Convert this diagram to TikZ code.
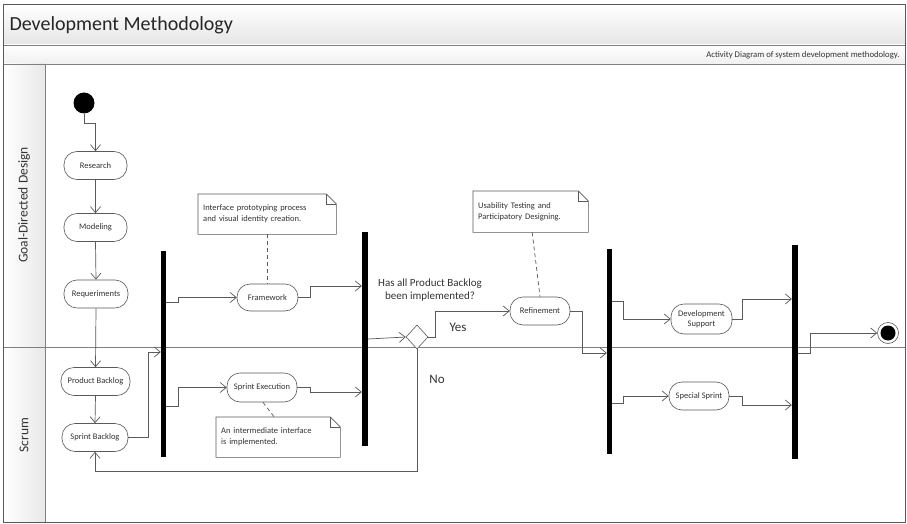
\documentclass[tikz,border=0pt]{standalone}
\usepackage{fontspec}
\setmainfont{Carlito}
\usetikzlibrary{arrows.meta,shapes.geometric,backgrounds}
\definecolor{linec}{HTML}{5A5A5A}
\definecolor{framec}{HTML}{808080}
\definecolor{txtc}{HTML}{333333}
\begin{document}
\begin{tikzpicture}[x=1pt,y=-1pt,
  act/.style={draw=linec, fill=white, rounded corners=13pt, minimum height=28pt, inner sep=1pt,
    font=\fontsize{8.5}{9.5}\selectfont, text=txtc, align=center, line width=0.6pt},
  bar/.style={fill=black, draw=none, inner sep=0pt},
  flow/.style={draw=linec, line width=0.7pt, -{Straight Barb[length=6pt,width=10pt]}},
  notebox/.style={draw=none, inner xsep=5pt, inner ysep=0pt, align=left, anchor=north west,
    font=\fontsize{8.5}{11}\selectfont, text=txtc},
  noteline/.style={draw=linec, line width=0.6pt, fill=white},
  anchorline/.style={draw=linec, line width=0.7pt, dashed, dash pattern=on 4pt off 3pt},
  lanelabel/.style={rotate=90, font=\fontsize{13.5}{15}\selectfont, text=txtc},
  guard/.style={font=\fontsize{13}{15}\selectfont, text=txtc}
]
\useasboundingbox (0,0) rectangle (907,524);
\begin{scope}[on background layer]
\fill[white] (0,0) rectangle (907,524);
\shade[top color=white, bottom color=gray!20] (3,4) rectangle (905,45);
\shade[top color=white, bottom color=gray!12] (3,45) rectangle (905,64);
\shade[left color=white, right color=gray!18] (3,64) rectangle (45,522);
\draw[framec, line width=0.7pt] (3,45) -- (905,45);
\draw[framec, line width=0.7pt] (3,64) -- (905,64);
\draw[framec, line width=0.7pt] (45,64) -- (45,522);
\draw[framec, line width=0.8pt] (3,347) -- (905,347);
\draw[gray!70!black, line width=0.9pt] (3,4) rectangle (905,522);
\end{scope}
\node[anchor=west, font=\fontsize{20}{22}\selectfont, text=black!85] (title) at (6,25) {Development Methodology};
\node[anchor=east, font=\fontsize{8.7}{9}\selectfont, text=txtc] (subtitle) at (903,55) {Activity Diagram of system development methodology.};
\node[lanelabel] (lane1) at (24,205) {Goal-Directed Design};
\node[lanelabel] (lane2) at (24,435) {Scrum};

% initial / final
\node[circle, fill=black, minimum size=21pt, inner sep=0pt] (init) at (84,103) {};
\node[circle, draw=linec, fill=white, minimum size=21pt, inner sep=0pt, line width=0.6pt] (fin) at (888,333) {};
\node[circle, fill=black, minimum size=15pt, inner sep=0pt] (finin) at (888,333) {};

% activities
\node[act, minimum width=63pt] (research) at (95.5,165.5) {Research};
\node[act, minimum width=63pt] (modeling) at (95.5,227.5) {Modeling};
\node[act, minimum width=64pt] (req) at (96,294) {Requeriments};
\node[act, minimum width=69pt] (pb) at (95.5,381.5) {Product Backlog};
\node[act, minimum width=66pt] (sb) at (95,437.5) {Sprint Backlog};
\node[act, minimum width=61pt, minimum height=27pt] (fw) at (267.5,297.5) {Framework};
\node[act, minimum width=70pt, minimum height=29pt] (se) at (262,387.5) {Sprint Execution};
\node[act, minimum width=60pt] (ref) at (540,311) {Refinement};
\node[act, minimum width=61pt, minimum height=30pt, font=\fontsize{8.5}{10}\selectfont] (ds) at (701.5,319) {Development\\Support};
\node[act, minimum width=60pt] (ss) at (699,396) {Special Sprint};

% bars
\node[bar, minimum width=5pt, minimum height=206pt] (f1) at (163.5,354) {};
\node[bar, minimum width=6pt, minimum height=214pt] (j1) at (365,339) {};
\node[bar, minimum width=5pt, minimum height=205pt] (f2) at (609.5,351.5) {};
\node[bar, minimum width=6pt, minimum height=214pt] (j2) at (795,352) {};

% decision
\node[diamond, draw=linec, fill=white, minimum width=22pt, minimum height=24pt, inner sep=0pt, line width=0.6pt] (dec) at (417,337) {};
\node[align=center, font=\fontsize{11}{13}\selectfont, text=txtc] (q) at (430,290.5) {Has all Product Backlog\\been implemented?};
\node[guard] (yes) at (458,327) {Yes};
\node[guard] (no) at (437,379) {No};

% notes
\node[notebox, minimum width=138pt, minimum height=40pt, text width=128pt] (n1) at (198,194)
  {Interface prototyping process\\and visual identity creation.};
\node[notebox, minimum width=124pt, minimum height=40pt, text width=114pt] (n2) at (216,417)
  {An intermediate interface\\is implemented.};
\node[notebox, minimum width=115pt, minimum height=41pt, text width=105pt] (n3) at (473,191)
  {Usability Testing and\\Participatory Designing.};
\begin{scope}[on background layer]
\foreach \n in {n1,n2,n3}{
  \draw[noteline] (\n.north west) -- ([xshift=-10pt]\n.north east) -- ([yshift=-10pt]\n.north east)
    -- (\n.south east) -- (\n.south west) -- cycle;
  \draw[draw=linec, line width=0.5pt] ([xshift=-10pt]\n.north east) -- ([xshift=-10pt,yshift=-10pt]\n.north east) -- ([yshift=-10pt]\n.north east);
}
\end{scope}
\draw[anchorline] (n1.south -| fw.north) -- (fw.north);
\draw[anchorline] (se.south) ++(1,0) -- ([xshift=-4pt]n2.north);
\draw[anchorline] ([xshift=1.5pt]n3.south) -- (ref.north);

% flows
\draw[flow] (init.south) -- (84,123) -| (research.north);
\draw[flow] (research.south) -- (modeling.north);
\draw[flow] (modeling.south) -- (req.north);
\draw[flow] (req.south) -- (pb.north);
\draw[flow] (pb.south) -- (sb.north);
\draw[flow] (sb.east) -| (148,352) -- (f1.west |- 148,352);
\draw[flow] (f1.east |- 0,302) -- (178,302) |- (fw.west);
\draw[flow] (f1.east |- 0,406) -- (178,406) |- (se.west);
\draw[flow] (fw.east) -| (310,286) -- (j1.west |- 0,286);
\draw[flow] (se.east) -| (310,392) -- (j1.west |- 0,392);
\draw[flow] (j1.east |- 0,339) -- (dec.west);
\draw[flow] (dec.east) -- (435,337) |- (ref.west);
\draw[flow] (dec.south) -- (dec.south |- 0,471) -| (sb.south);
\draw[flow] (ref.east) -| (582,353) -- (f2.west |- 0,353);
\draw[flow] (f2.east |- 0,301) -- (623,301) |- (ds.west);
\draw[flow] (f2.east |- 0,403) -- (623,403) |- (ss.west);
\draw[flow] (ds.east) -| (742,299) -- (j2.west |- 0,299);
\draw[flow] (ss.east) -| (742,405) -- (j2.west |- 0,405);
\draw[flow] (j2.east |- 0,353) -- (810,353) |- (fin.west);
\end{tikzpicture}
\end{document}
